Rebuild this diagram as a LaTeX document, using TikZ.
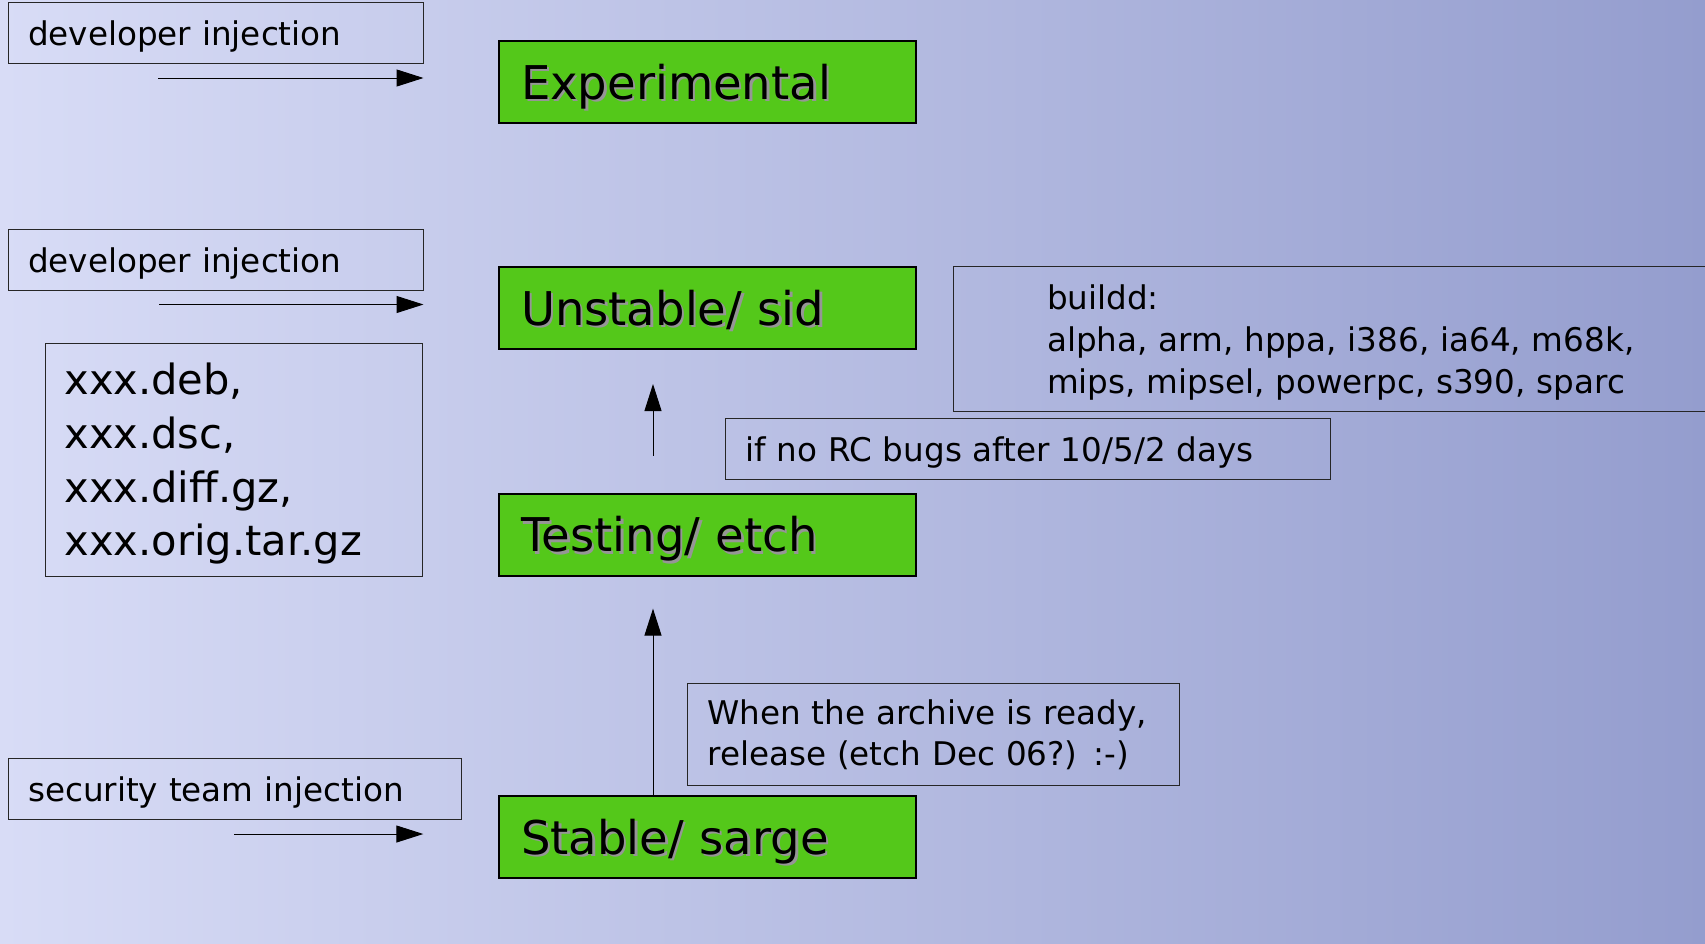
\documentclass[tikz,border=0pt]{standalone}
\usepackage{fontspec}
\setmainfont{DejaVu Sans}
\usetikzlibrary{arrows.meta}
\definecolor{bgleft}{RGB}{216,220,246}
\definecolor{bgright}{RGB}{148,157,206}
\definecolor{branchgreen}{RGB}{84,200,26}
\definecolor{shadowgray}{RGB}{150,150,150}
\newcommand{\shadowtext}[1]{\makebox[0pt][l]{\hspace{2.5pt}\raisebox{-2.5pt}{\textcolor{shadowgray}{#1}}}#1}
\tikzset{
  note/.style={draw=black!85, line width=0.9pt, anchor=north west, inner xsep=20pt, inner ysep=0pt,
    align=left, font=\fontsize{32.6}{42}\selectfont, text height=26pt, text depth=0pt},
  branch/.style={draw=black, line width=2pt, fill=branchgreen, anchor=north west, text width=373pt,
    minimum height=82pt, inner xsep=22pt, inner ysep=0pt, align=left, font=\fontsize{46.5}{50}\selectfont,
    text height=34pt, text depth=0pt},
  arr/.style={-{Triangle[length=27pt,width=17pt]}, line width=1pt}
}
\begin{document}
\begin{tikzpicture}[x=1pt,y=-1pt]
\useasboundingbox (0,0) rectangle (1705,943);
\clip (0,0) rectangle (1705,943);
\shade[left color=bgleft,right color=bgright] (0,0) rectangle (1705,943);
% branches and notes
\node[note, text width=375pt, minimum height=61pt, text height=25.5pt] (devexp) at (7.6,2) {developer injection};
\node[branch] (exp) at (498,40) {\shadowtext{Experimental}};
\node[note, text width=375pt, minimum height=61pt, text height=25.5pt] (devuns) at (7.6,229) {developer injection};
\node[branch] (uns) at (498,266) {\shadowtext{Unstable/ sid}};
\node[note, font=\fontsize{41.6}{53.6}\selectfont, inner xsep=19.4pt, text width=339pt, minimum height=233.5pt,
  text height=20pt, text depth=149.5pt] (files) at (44.6,342.5)
  {xxx.deb,\\xxx.dsc,\\xxx.diff.gz,\\xxx.orig.tar.gz};
\node[note, inner xsep=94pt, text width=700pt, minimum height=145pt, text height=20pt, text depth=79.6pt] (buildd) at (952.6,266)
  {buildd:\\alpha, arm, hppa, i386, ia64, m68k,\\mips, mipsel, powerpc, s390, sparc};
\node[note, text width=565pt, minimum height=61pt] (rc) at (725,417.6) {if no RC bugs after 10/5/2 days};
\node[branch] (test) at (498,492.6) {\shadowtext{Testing/ etch}};
\node[note, font=\fontsize{32.6}{41}\selectfont, text width=452pt, minimum height=102pt,
  text height=20pt, text depth=39.4pt] (rel) at (687,683)
  {When the archive is ready,\\release (etch Dec 06?) :-)};
\node[note, text width=413pt, minimum height=61pt, text height=25pt] (sec) at (7.6,758) {security team injection};
\node[branch] (stab) at (498,795) {\shadowtext{Stable/ sarge}};
% injections
\coordinate (inexp) at (158,78);
\coordinate (inuns) at (159,304.5);
\coordinate (insec) at (234,834);
\draw[arr] (inexp) -- (inexp -| devexp.east);
\draw[arr] (inuns) -- (inuns -| devuns.east);
\draw[arr] (insec) -- (insec -| files.east);
% migrations
\draw[arr, shorten <=37pt, shorten >=34pt] ([xshift=-54.5pt]test.north) -- ([xshift=-54.5pt]uns.south);
\draw[arr, shorten >=32pt] ([xshift=-54.5pt]stab.north) -- ([xshift=-54.5pt]test.south);
\end{tikzpicture}
\end{document}
